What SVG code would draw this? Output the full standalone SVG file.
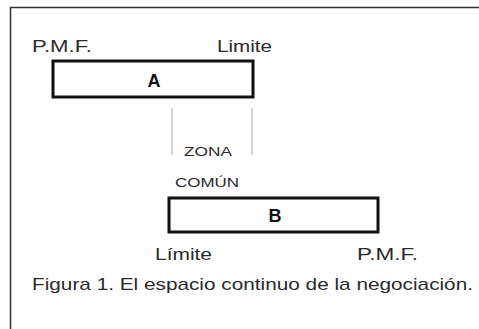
<svg xmlns="http://www.w3.org/2000/svg" width="479" height="329" viewBox="0 0 479 329">
<style>
text{font-family:"Liberation Sans",Arial,sans-serif;fill:#2a2a2a}
.lbl{font-size:17px}
.zone{font-size:13px}
.box{fill:#fff;stroke:#111;stroke-width:3}
.big{font-size:18px;font-weight:bold;fill:#111}
.guide{stroke:#aaa;stroke-width:1}
</style>
<rect width="479" height="329" fill="#fff"/>
<path d="M10.5,329 V7.5 H479" fill="none" stroke="#333" stroke-width="1.5"/>
<g id="nodeA">
<rect class="box" x="53" y="61" width="200" height="36"/>
<text class="big" x="154" y="87" text-anchor="middle">A</text>
<text class="lbl" x="32" y="52" textLength="60" lengthAdjust="spacingAndGlyphs">P.M.F.</text>
<text class="lbl" x="217" y="52" textLength="55" lengthAdjust="spacingAndGlyphs">Limite</text>
</g>
<g id="connectors">
<line class="guide" x1="172" y1="108" x2="172" y2="155"/>
<line class="guide" x1="252" y1="108" x2="252" y2="155"/>
</g>
<g id="zona">
<text class="zone" x="184" y="156" textLength="48" lengthAdjust="spacingAndGlyphs">ZONA</text>
<text class="zone" x="175" y="187" textLength="64" lengthAdjust="spacingAndGlyphs">COMÚN</text>
</g>
<g id="nodeB">
<rect class="box" x="169" y="198" width="209" height="34"/>
<text class="big" x="275" y="222" text-anchor="middle">B</text>
<text class="lbl" x="155" y="260" textLength="57" lengthAdjust="spacingAndGlyphs">Límite</text>
<text class="lbl" x="357" y="260" textLength="61" lengthAdjust="spacingAndGlyphs">P.M.F.</text>
</g>
<text class="lbl" x="32" y="290" textLength="441" lengthAdjust="spacingAndGlyphs">Figura 1. El espacio continuo de la negociación.</text>
</svg>
